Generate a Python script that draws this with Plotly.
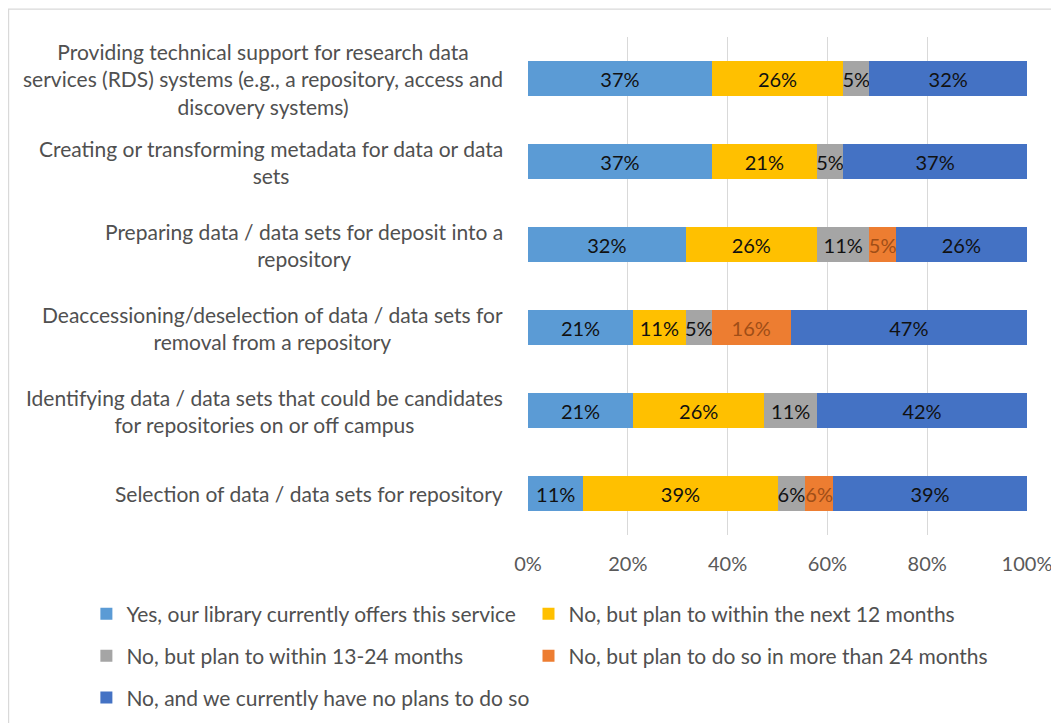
import plotly.graph_objects as go

categories = [
    "Providing technical support for research data<br>services (RDS) systems (e.g., a repository, access and<br>discovery systems)",
    "Creating or transforming metadata for data or data<br>sets",
    "Preparing data / data sets for deposit into a<br>repository",
    "Deaccessioning/deselection of data / data sets for<br>removal from a repository",
    "Identifying data / data sets that could be candidates<br>for repositories on or off campus",
    "Selection of data / data sets for repository",
]

series_names = [
    "Yes, our library currently offers this service",
    "No, but plan to within the next 12 months",
    "No, but plan to within 13-24 months",
    "No, but plan to do so in more than 24 months",
    "No, and we currently have no plans to do so",
]

yes_now = [36.84, 36.84, 31.58, 21.05, 21.05, 11.11]
plan_12 = [26.32, 21.05, 26.32, 10.53, 26.32, 38.89]
plan_24 = [5.26, 5.26, 10.53, 5.26, 10.53, 5.56]
plan_more = [None, None, 5.26, 15.79, None, 5.56]
no_plans = [31.58, 36.84, 26.32, 47.37, 42.11, 38.89]

series_values = [yes_now, plan_12, plan_24, plan_more, no_plans]
colors = ["#5B9BD5", "#FFC000", "#A5A5A5", "#ED7D31", "#4472C4"]
text_colors = ["#111111", "#111111", "#111111", "#A04E17", "#111111"]
legend_ids = ["legend", "legend4", "legend2", "legend5", "legend3"]

tick_vals = [0, 20, 40, 60, 80, 100]
tick_text = ["0%", "20%", "40%", "60%", "80%", "100%"]

FONT = "Lato, Carlito, Calibri, sans-serif"

fig = go.Figure()
for name, vals, col, tcol, lg in zip(series_names, series_values, colors, text_colors, legend_ids):
    fig.add_trace(go.Bar(
        y=list(range(len(categories))),
        x=vals,
        name=name,
        orientation="h",
        marker=dict(color=col, line=dict(width=0)),
        width=0.41,
        text=[(f"{round(v)}%" if v else "") for v in vals],
        textposition="inside",
        insidetextanchor="middle",
        textangle=0,
        textfont=dict(color=tcol, size=20, family=FONT),
        legend=lg,
        hoverinfo="skip",
    ))

annotations = []
for i, cat in enumerate(categories):
    annotations.append(dict(
        x=-0.046, xref="paper", y=i, yref="y",
        text=cat, showarrow=False, xanchor="right", yanchor="middle",
        align="center", font=dict(size=21, color="#505050", family=FONT),
    ))

legend_common = dict(
    orientation="h", xanchor="left", yanchor="middle",
    font=dict(size=21, color="#505050", family=FONT),
    bgcolor="rgba(0,0,0,0)", itemclick=False, itemdoubleclick=False,
)

COL1 = -0.885
COL2 = 0.001

fig.update_layout(
    width=1051, height=715,
    barmode="stack",
    plot_bgcolor="white", paper_bgcolor="white",
    margin=dict(l=520, r=32, t=29, b=188, autoexpand=False),
    font=dict(family=FONT, size=20, color="#595959"),
    uniformtext=dict(minsize=20, mode="show"),
    xaxis=dict(range=[0, 100], tickvals=tick_vals, ticktext=tick_text,
               showgrid=True, gridcolor="#D9D9D9", gridwidth=1.3,
               zeroline=False, showline=False, ticks="", ticklabelstandoff=15,
               tickfont=dict(size=20, color="#595959", family=FONT)),
    yaxis=dict(range=[5.5, -0.5], showticklabels=False, showgrid=False,
               zeroline=False, showline=False, ticks=""),
    legend=dict(legend_common, x=COL1, y=-0.1586),
    legend2=dict(legend_common, x=COL1, y=-0.243),
    legend3=dict(legend_common, x=COL1, y=-0.327),
    legend4=dict(legend_common, x=COL2, y=-0.1586),
    legend5=dict(legend_common, x=COL2, y=-0.243),
    annotations=annotations,
    shapes=[dict(type="rect", xref="paper", yref="paper",
                 x0=-1.041, x1=1.2, y0=-0.5, y1=1.056,
                 line=dict(color="#D9D9D9", width=1.3), fillcolor="rgba(0,0,0,0)",
                 layer="below")],
    showlegend=True,
)

fig.write_html("out.html")
